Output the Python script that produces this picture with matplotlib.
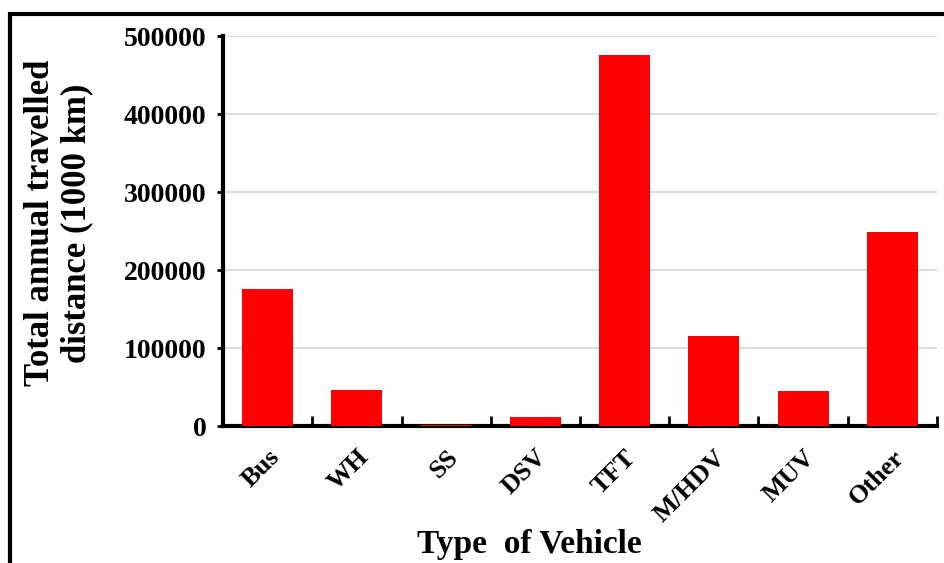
import numpy as np
import matplotlib
matplotlib.use("Agg")
import matplotlib.pyplot as plt
from matplotlib.patches import Rectangle

# vehicle types and annual distance (1000 km)
vehicles = ["Bus", "WH", "SS", "DSV", "TFT", "M/HDV", "MUV", "Other"]
distance = [175500, 46000, 1200, 11000, 475500, 115500, 45000, 248500]
y_ticks = [0, 100000, 200000, 300000, 400000, 500000]

plt.rcParams["font.family"] = ["Liberation Serif", "DejaVu Serif"]
plt.rcParams["font.weight"] = "bold"

fig = plt.figure(figsize=(9.45, 5.63), dpi=100)
ax = fig.add_axes([0.236, 0.2433, 0.7555, 0.6927])

x = np.arange(len(vehicles))
ax.bar(x, distance, width=0.57, color="#ff0000", zorder=3)

ax.set_xlim(-0.5, len(vehicles) - 0.5)
ax.set_ylim(0, 500000)
ax.set_yticks(y_ticks)
ax.set_yticklabels([str(v) for v in y_ticks], fontsize=20, fontweight="bold")
ax.yaxis.grid(True, color="#d9d9d9", linewidth=1.3, zorder=0)

# labels at bar centres, tick marks at category boundaries
ax.set_xticks(x)
ax.set_xticklabels(vehicles, rotation=45, ha="right", rotation_mode="anchor",
                   fontsize=19, fontweight="bold")
ax.tick_params(axis="x", which="major", length=0, pad=14)
ax.set_xticks(np.arange(len(vehicles) + 1) - 0.5, minor=True)
ax.tick_params(axis="x", which="minor", direction="in", length=7, width=2)
ax.tick_params(axis="y", direction="out", length=4, width=2, pad=8)

for s in ["top", "right"]:
    ax.spines[s].set_visible(False)
for s in ["left", "bottom"]:
    ax.spines[s].set_linewidth(3)

ax.set_ylabel("Total annual travelled\ndistance (1000 km)", fontsize=25,
              fontweight="bold", linespacing=1.15, va="center")
ax.yaxis.set_label_coords(-0.23, 0.52)
ax.set_xlabel("Type  of Vehicle", fontsize=24, fontweight="bold", va="center")
ax.xaxis.set_label_coords(0.4286, -0.305)

# outer frame, partly cropped by the figure edge
frame = Rectangle((10 / 945, -0.1), 1.2, 1 - 14 / 563 + 0.1, transform=fig.transFigure,
                  fill=False, edgecolor="black", linewidth=3, clip_on=False)
fig.patches.append(frame)

fig.savefig("out.png", dpi=100)
